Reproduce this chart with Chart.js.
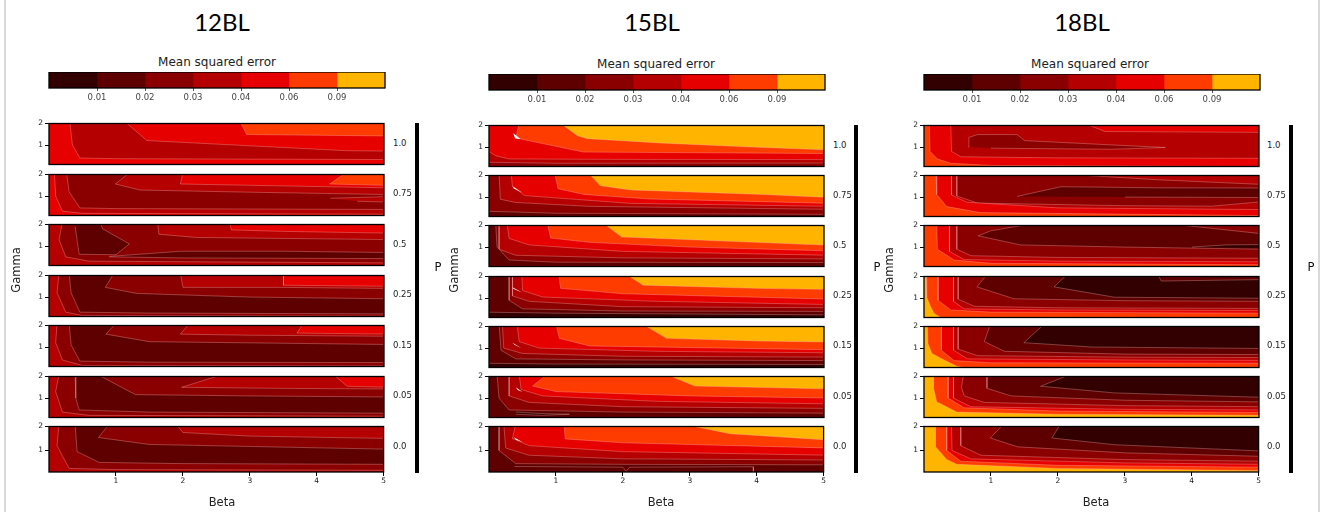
<!DOCTYPE html>
<html>
<head>
<meta charset="utf-8">
<script src="https://cdn.jsdelivr.net/npm/chart.js@4.4.1/dist/chart.umd.min.js"></script>
<style>
  body { margin: 0; background: #fff; width: 1325px; height: 517px; position: relative; overflow: hidden; }
  canvas { position: absolute; }
  .txt { position: absolute; white-space: nowrap; color: #111; font-family: 'DejaVu Sans', sans-serif; line-height: 1; }
  .blk { position: absolute; }
</style>
</head>
<body>
<script>
// ---- data ----
const panelNames = ['12BL', '15BL', '18BL'];
const pLabels = ['1.0', '0.75', '0.5', '0.25', '0.15', '0.05', '0.0'];
const levelTicks = ['0.01', '0.02', '0.03', '0.04', '0.06', '0.09'];
const colorbarBins = [1, 1, 1, 1, 1, 1, 1];
const betaTicks = [1, 2, 3, 4, 5];
const gammaTicks = [1, 2];

// contour bands per subplot: [level, closing corners, beta/gamma polyline]
// corners: a = top right, b = bottom right, c = bottom left, d = top left
const bands12 = [
  [[4, 'abcd', []],
   [3, 'bcd', [0.3, 2.1, 1.13, 2.1, 1.46, 1.21, 4.44, 0.74, 5.1, 0.72]],
   [4, 'bcd', [0.31, 2.1, 0.35, 1.0, 0.46, 0.4, 1, 0.37, 5.1, 0.33]],
   [5, 'a', [2.85, 2.1, 2.95, 1.49, 5.1, 1.42]]],
  [[2, 'abcd', []],
   [3, 'bcd', [0.26, 2.1, 0.3, 1.2, 0.46, 0.45, 1, 0.42, 5.1, 0.38]],
   [4, 'bcd', [0.08, 2.1, 0.1, 1.0, 0.2, 0.3, 0.5, 0.2, 5.1, 0.16]],
   [3, 'a', [1.21, 2.1, 0.99, 1.56, 1.36, 1.28, 3, 1.18, 5.1, 1.07]],
   [4, 'a', [2.0, 2.1, 1.96, 1.56, 3, 1.5, 5.1, 1.38]],
   [5, 'a', [4.44, 2.1, 4.19, 1.56, 5.1, 1.49]],
   [3, '', [4.2, 0.9, 5.1, 0.98, 5.1, 0.72, 4.6, 0.76]]],
  [[2, 'abcd', []],
   [3, 'bcd', [0.2, 2.1, 0.15, 1.3, 0.25, 0.5, 0.6, 0.3, 5.1, 0.22]],
   [1, '', [0.39, 2.1, 0.76, 2.1, 0.8, 1.8, 1.2, 1.1, 1.0, 0.6, 0.45, 0.62, 0.39, 1.9]],
   [1, '', [0.9, 0.52, 1.96, 0.76, 3.5, 0.76, 5.1, 0.7, 5.1, 0.42, 2, 0.45, 0.9, 0.5]],
   [3, 'a', [1.62, 2.1, 1.64, 1.55, 2.2, 1.4, 5.1, 1.3]],
   [4, 'a', [2.7, 2.1, 2.72, 1.75, 3.5, 1.68, 5.1, 1.6]]],
  [[1, 'abcd', []],
   [2, 'bcd', [0.3, 2.1, 0.33, 1.2, 0.46, 0.3, 1.5, 0.26, 5.1, 0.22]],
   [3, 'bcd', [0.15, 2.1, 0.12, 1.2, 0.25, 0.3, 0.5, 0.15, 5.1, 0.12]],
   [2, 'a', [0.97, 2.1, 0.84, 1.45, 1.31, 1.17, 3, 1.0, 5.1, 0.92]],
   [3, 'a', [1.96, 2.1, 2.0, 1.45, 3.45, 1.45, 5.1, 1.4]],
   [4, 'a', [3.5, 2.1, 3.5, 1.55, 5.1, 1.5]]],
  [[1, 'abcd', []],
   [2, 'bcd', [0.3, 2.1, 0.33, 1.1, 0.46, 0.35, 1.5, 0.3, 5.1, 0.28]],
   [3, 'bcd', [0.12, 2.1, 0.1, 1.2, 0.2, 0.4, 0.5, 0.15, 5.1, 0.13]],
   [2, 'a', [1.0, 2.1, 0.85, 1.6, 1.5, 1.25, 5.1, 1.12]],
   [3, 'a', [2.1, 2.1, 1.96, 1.6, 3, 1.55, 5.1, 1.5]],
   [4, 'a', [3.8, 2.1, 3.7, 1.65, 5.1, 1.6]]],
  [[1, 'abcd', []],
   [2, 'bcd', [0.39, 2.1, 0.4, 1.0, 0.45, 0.45, 1.5, 0.35, 5.1, 0.3]],
   [3, 'bcd', [0.15, 2.1, 0.1, 1.3, 0.2, 0.35, 0.6, 0.2, 5.1, 0.16]],
   [2, 'a', [0.72, 2.1, 1.29, 1.16, 3, 1.1, 5.1, 1.05]],
   [3, 'a', [2.6, 2.1, 1.98, 1.5, 3.5, 1.45, 5.1, 1.42]],
   [4, 'a', [4.24, 2.1, 4.45, 1.55, 5.1, 1.5]]],
  [[1, 'abcd', []],
   [2, 'bcd', [0.39, 2.1, 0.42, 0.95, 0.75, 0.5, 2, 0.45, 5.1, 0.42]],
   [3, 'bcd', [0.15, 2.1, 0.12, 1.2, 0.3, 0.25, 1, 0.2, 5.1, 0.17]],
   [2, 'a', [0.9, 2.1, 0.74, 1.54, 1.5, 1.25, 5.1, 1.05]],
   [3, 'a', [1.9, 2.1, 2.0, 1.75, 3, 1.6, 5.1, 1.5]]]
];

const bands15 = [
  [[4, 'abcd', []],
   [3, 'bc', [-0.1, 1.0, 0.1, 0.6, 0.3, 0.45, 2, 0.43, 5.1, 0.42]],
   [2, 'bc', [-0.1, 0.3, 1, 0.25, 5.1, 0.26]],
   [5, 'a', [0.45, 2.1, 0.4, 1.42, 1.41, 0.77, 5.1, 0.7]],
   [6, 'a', [1.07, 2.1, 1.32, 1.53, 1.47, 1.39, 2.61, 1.18, 4.1, 0.98, 5.1, 0.87]],
   [7, '', [0.36, 1.65, 0.39, 1.4, 0.47, 1.37]]],
  [[2, 'abcd', []],
   [3, 'a', [0.15, 2.1, 0.17, 0.9, 0.4, 0.75, 1.5, 0.57, 5.1, 0.43]],
   [4, 'a', [0.33, 2.1, 0.35, 1.5, 0.53, 1.07, 2.1, 0.71, 5.1, 0.57]],
   [5, 'a', [0.98, 2.1, 1.03, 1.39, 1.42, 1.12, 2.4, 0.91, 5.1, 0.71]],
   [6, 'a', [1.49, 2.1, 1.66, 1.53, 2.11, 1.33, 4.1, 1.12, 5.1, 0.98]],
   [1, 'bc', [-0.1, 0.35, 1, 0.25, 5.1, 0.2]],
   [7, '', [0.35, 1.5, 0.37, 1.4, 0.5, 1.2]]],
  [[2, 'abcd', []],
   [3, 'a', [0.15, 2.1, 0.15, 0.9, 0.4, 0.62, 2, 0.5, 5.1, 0.45]],
   [4, 'a', [0.27, 2.1, 0.3, 1.4, 0.6, 1.1, 2, 0.8, 5.1, 0.62]],
   [5, 'a', [0.87, 2.1, 0.92, 1.42, 1.5, 1.22, 3, 1.0, 5.1, 0.82]],
   [6, 'a', [1.71, 2.1, 1.98, 1.47, 3.5, 1.28, 5.1, 1.08]],
   [1, 'bcd', [0.1, 2.1, 0.12, 1.0, 0.3, 0.4, 1, 0.3, 5.1, 0.28]]],
  [[2, 'abcd', []],
   [3, 'a', [0.35, 2.1, 0.35, 1.1, 0.6, 0.85, 2, 0.6, 5.1, 0.55]],
   [4, 'a', [0.49, 2.1, 0.5, 1.35, 0.8, 1.05, 2.5, 0.85, 5.1, 0.7]],
   [5, 'a', [1.04, 2.1, 1.07, 1.45, 2, 1.2, 5.1, 0.95]],
   [6, 'a', [2.05, 2.1, 2.3, 1.6, 4, 1.45, 5.1, 1.4]],
   [1, 'bcd', [0.3, 2.1, 0.3, 0.9, 0.5, 0.5, 2, 0.4, 5.1, 0.38]],
   [0, 'bc', [-0.1, 0.35, 1, 0.3, 5.1, 0.22]],
   [7, '', [0.35, 1.5, 0.37, 1.42, 0.5, 1.25]]],
  [[2, 'abcd', []],
   [3, 'a', [0.2, 2.1, 0.22, 1.0, 0.5, 0.75, 2, 0.62, 5.1, 0.58]],
   [4, 'a', [0.42, 2.1, 0.45, 1.3, 0.75, 1.0, 2.5, 0.85, 5.1, 0.78]],
   [5, 'a', [1.0, 2.1, 1.05, 1.45, 1.5, 1.1, 5.1, 0.92]],
   [6, 'a', [2.3, 2.1, 2.65, 1.45, 4, 1.33, 5.1, 1.28]],
   [1, 'bcd', [0.15, 2.1, 0.18, 0.9, 0.4, 0.5, 2, 0.45, 5.1, 0.42]],
   [0, 'bc', [-0.1, 0.3, 1, 0.26, 5.1, 0.24]],
   [7, '', [0.35, 1.25, 0.38, 1.15, 0.48, 1.0]]],
  [[2, 'abcd', []],
   [3, 'a', [0.3, 2.1, 0.3, 1.1, 0.6, 0.8, 2, 0.6, 5.1, 0.52]],
   [4, 'a', [0.45, 2.1, 0.48, 1.4, 0.8, 1.1, 2.5, 0.85, 5.1, 0.73]],
   [5, 'a', [0.87, 2.1, 0.65, 1.56, 1.0, 1.3, 3, 1.1, 5.1, 1.0]],
   [6, 'a', [2.65, 2.1, 3.07, 1.56, 5.1, 1.42]],
   [1, 'bcd', [0.12, 2.1, 0.15, 1.0, 0.3, 0.45, 2, 0.35, 5.1, 0.3]],
   [0, '', [0.4, 0.35, 0.8, 0.28, 1.2, 0.25, 0.8, 0.2, 0.4, 0.25]],
   [7, '', [0.4, 1.5, 0.43, 1.38, 0.5, 1.28]]],
  [[2, 'abcd', []],
   [3, 'a', [0.22, 2.1, 0.25, 1.1, 0.6, 0.8, 2, 0.65, 5.1, 0.6]],
   [4, 'a', [0.4, 2.1, 0.35, 1.5, 0.6, 1.2, 2, 0.95, 5.1, 0.8]],
   [5, 'a', [1.12, 2.1, 1.14, 1.48, 2, 1.32, 5.1, 1.1]],
   [6, 'a', [2.9, 2.1, 3.6, 1.7, 5.1, 1.43]],
   [1, 'bcd', [0.15, 2.1, 0.15, 1.0, 0.4, 0.45, 2, 0.42, 5.1, 0.4]],
   [1, '', [0.38, 0.33, 2, 0.3, 2.05, 0.12, 2.1, 0.3, 3.95, 0.32, 3.95, 0, 0.38, 0]],
   [7, '', [0.37, 1.55, 0.4, 1.45, 0.5, 1.35]]]
];

const bands18 = [
  [[4, 'abcd', []],
   [3, 'a', [0.4, 2.1, 0.41, 0.8, 0.55, 0.55, 2, 0.5, 5.1, 0.48]],
   [4, 'a', [2.4, 2.1, 2.7, 1.72, 5.1, 1.68]],
   [2, '', [0.66, 1.0, 0.67, 1.45, 0.8, 1.58, 1.39, 1.58, 1.5, 1.3, 2.8, 1.1, 3.6, 0.98, 2.8, 0.9, 1.0, 0.95]],
   [5, 'bcd', [0.08, 2.1, 0.09, 0.8, 0.2, 0.45, 0.4, 0.25, 1, 0.15, 5.1, 0.1]]],
  [[2, 'abcd', []],
   [3, 'a', [1.9, 2.1, 3.5, 1.8, 5.1, 1.58]],
   [1, '', [1.39, 1.03, 2.04, 1.48, 3.5, 1.43, 5.1, 1.42, 5.1, 0.98, 3, 1.0]],
   [3, 'bcd', [0.49, 2.1, 0.49, 1.05, 0.8, 0.72, 3, 0.6, 4.3, 0.58, 5.1, 0.8]],
   [4, 'bcd', [0.41, 2.1, 0.41, 1.1, 0.64, 0.76, 2, 0.5, 5.1, 0.42]],
   [5, 'bcd', [0.18, 2.1, 0.19, 1.12, 0.34, 0.56, 0.84, 0.28, 5.1, 0.14]]],
  [[2, 'abcd', []],
   [1, 'a', [1.64, 2.1, 0.99, 1.75, 0.81, 1.52, 1.44, 1.1, 3, 1.0, 5.1, 0.9]],
   [2, 'a', [3.6, 2.1, 5.1, 1.6]],
   [0, '', [4.0, 1.0, 4.5, 1.1, 5.1, 1.12, 5.1, 0.95]],
   [3, 'bcd', [0.49, 2.1, 0.49, 0.9, 0.7, 0.6, 2, 0.52, 5.1, 0.48]],
   [4, 'bcd', [0.38, 2.1, 0.38, 0.8, 0.6, 0.42, 2, 0.35, 5.1, 0.32]],
   [5, 'bcd', [0.19, 2.1, 0.2, 0.9, 0.45, 0.4, 1, 0.25, 5.1, 0.18]]],
  [[2, 'abcd', []],
   [1, 'a', [0.94, 2.1, 0.79, 1.52, 1.34, 0.97, 3, 0.88, 5.1, 0.85]],
   [0, 'a', [2.14, 2.1, 1.94, 1.52, 2.84, 1.04, 5.1, 0.99]],
   [1, 'a', [3.49, 2.1, 3.54, 1.79, 5.1, 1.86]],
   [3, 'bcd', [0.51, 2.1, 0.51, 0.95, 0.75, 0.62, 2, 0.55, 5.1, 0.52]],
   [4, 'bcd', [0.44, 2.1, 0.44, 0.85, 0.6, 0.5, 2, 0.45, 5.1, 0.42]],
   [5, 'bcd', [0.21, 2.1, 0.21, 0.9, 0.4, 0.45, 1, 0.35, 5.1, 0.3]],
   [6, 'bcd', [0.03, 2.1, 0.04, 1.05, 0.1, 0.6, 0.15, 0.3, 0.25, 0.1, 0.3, -0.1]]],
  [[1, 'abcd', []],
   [0, 'a', [1.79, 2.1, 1.49, 1.25, 2.5, 1.05, 5.1, 0.98]],
   [2, 'bcd', [0.99, 2.1, 0.9, 1.3, 1.2, 0.85, 3, 0.72, 5.1, 0.7]],
   [3, 'bcd', [0.51, 2.1, 0.51, 0.95, 0.8, 0.65, 3, 0.58, 5.1, 0.56]],
   [4, 'bcd', [0.44, 2.1, 0.44, 0.9, 0.65, 0.5, 3, 0.45, 5.1, 0.43]],
   [5, 'bcd', [0.26, 2.1, 0.26, 0.9, 0.45, 0.42, 1, 0.32, 5.1, 0.3]],
   [6, 'bcd', [0.05, 2.1, 0.06, 1.2, 0.12, 0.75, 0.3, 0.45, 0.5, 0.15, 1, -0.1]]],
  [[1, 'abcd', []],
   [0, 'a', [2.19, 2.1, 1.74, 1.55, 2.84, 1.24, 5.1, 1.03]],
   [2, 'bcd', [0.94, 2.1, 0.94, 1.45, 1.3, 1.1, 3, 0.9, 5.1, 0.82]],
   [3, 'bcd', [0.59, 2.1, 0.56, 1.5, 0.6, 1.1, 0.9, 0.8, 3, 0.65, 5.1, 0.6]],
   [4, 'bcd', [0.44, 2.1, 0.44, 1.0, 0.7, 0.6, 3, 0.48, 5.1, 0.45]],
   [5, 'bcd', [0.36, 2.1, 0.36, 1.0, 0.6, 0.55, 2, 0.4, 5.1, 0.33]],
   [6, 'bcd', [0.14, 2.1, 0.14, 1.5, 0.19, 0.83, 0.49, 0.35, 2, 0.25, 5.1, 0.2]]],
  [[1, 'abcd', []],
   [0, 'a', [2.04, 2.1, 1.91, 1.52, 2.84, 1.24, 5.1, 0.97]],
   [2, 'bcd', [1.19, 2.1, 0.99, 1.52, 1.4, 1.15, 3, 0.9, 5.1, 0.75]],
   [3, 'bcd', [0.55, 2.1, 0.55, 1.2, 0.85, 0.8, 3, 0.62, 5.1, 0.55]],
   [4, 'bcd', [0.41, 2.1, 0.42, 1.0, 0.7, 0.65, 3, 0.48, 5.1, 0.42]],
   [5, 'bcd', [0.34, 2.1, 0.34, 1.0, 0.55, 0.55, 2, 0.38, 5.1, 0.3]],
   [6, 'bcd', [0.17, 2.1, 0.17, 1.17, 0.34, 0.62, 0.49, 0.42, 2, 0.25, 5.1, 0.16]]]
];

// ---- styling / layout ----
const levelColors = ['#330000', '#5e0000', '#8a0000', '#b40000', '#e60000', '#ff3c00', '#ffb400', '#ffffff'];
const corner = { a: [5.1, 2.1], b: [5.1, 0], c: [-0.1, 0], d: [-0.1, 2.1] };
const PLOT_W = 335, PLOT_H = 46, CB_W = 336, CB_H = 16;
const panelGeo = [
  { x: 49, cbY: 72, top: 123, pitch: 50.5, barX: 415, labX: 393, pX: 438, gX: 17, titleX: 222, mseX: 217, betaX: 222 },
  { x: 489, cbY: 74, top: 125, pitch: 50.2, barX: 854, labX: 833, pX: 877, gX: 455, titleX: 652, mseX: 656, betaX: 661 },
  { x: 924, cbY: 74, top: 125, pitch: 50.2, barX: 1289, labX: 1267, pX: 1311, gX: 890, titleX: 1082, mseX: 1090, betaX: 1096 }
];
const tickFont = { family: "'DejaVu Sans', sans-serif", size: 7.5 };

// draws the black box round every plot area
Chart.register({
  id: 'frame',
  afterDatasetsDraw(chart) {
    const a = chart.chartArea;
    const ctx = chart.ctx;
    ctx.save();
    ctx.strokeStyle = '#000';
    ctx.lineWidth = 1.3;
    ctx.strokeRect(a.left, a.top, a.right - a.left, a.bottom - a.top);
    ctx.restore();
  }
});

function addText(txt, x, y, css, rot, left) {
  const d = document.createElement('div');
  d.className = 'txt';
  d.textContent = txt;
  d.style.left = x + 'px';
  d.style.top = y + 'px';
  d.style.transform = (left ? 'translate(0,-50%)' : 'translate(-50%,-50%)') + (rot ? ' rotate(' + rot + 'deg)' : '');
  d.style.cssText += css;
  document.body.appendChild(d);
}

function addBlock(x, y, w, h, color) {
  const d = document.createElement('div');
  d.className = 'blk';
  d.style.cssText = `left:${x}px;top:${y}px;width:${w}px;height:${h}px;background:${color}`;
  document.body.appendChild(d);
}

function newCanvas(x, y, w, h) {
  const c = document.createElement('canvas');
  c.width = w; c.height = h;
  c.style.left = x + 'px'; c.style.top = y + 'px';
  c.style.width = w + 'px'; c.style.height = h + 'px';
  document.body.appendChild(c);
  return c;
}

function bandPoints(band) {
  const flat = band[2];
  const pts = [];
  for (let i = 0; i < flat.length; i += 2) pts.push({ x: flat[i], y: flat[i + 1] });
  for (const k of band[1]) pts.push({ x: corner[k][0], y: corner[k][1] });
  return pts;
}

function makeSubplot(x, y, bands, last) {
  const padL = 20, padT = 6, padR = 3, padB = last ? 0 : 2;
  const axisH = last ? 22 : 0;
  const w = PLOT_W + padL + padR;
  const h = PLOT_H + padT + padB + axisH;
  const canvas = newCanvas(x - padL, y - padT, w, h);

  const datasets = bands.map((b, i) => ({
    data: bandPoints(b),
    fill: 'shape',
    backgroundColor: levelColors[b[0]],
    borderColor: 'rgba(255,185,185,0.42)',
    borderWidth: (i === 0 || b[0] === 7) ? 0 : 0.8,
    pointRadius: 0,
    tension: 0,
    order: bands.length - i
  }));

  new Chart(canvas, {
    type: 'line',
    data: { datasets },
    options: {
      responsive: false,
      animation: false,
      events: [],
      layout: { padding: { left: 0, top: padT, right: padR, bottom: padB } },
      plugins: { legend: { display: false }, tooltip: { enabled: false } },
      scales: {
        x: {
          type: 'linear', min: 0, max: 5, display: last,
          afterFit: s => { s.height = axisH; },
          afterBuildTicks: s => { s.ticks = betaTicks.map(v => ({ value: v })); },
          ticks: { font: tickFont, color: '#222', padding: 1, autoSkip: false, maxRotation: 0 },
          grid: { drawOnChartArea: false, tickLength: 4, color: '#000' },
          border: { display: false }
        },
        y: {
          type: 'linear', min: 0.1, max: 2,
          afterFit: s => { s.width = padL; },
          afterBuildTicks: s => { s.ticks = gammaTicks.map(v => ({ value: v })); },
          ticks: { font: tickFont, color: '#222', padding: 2, autoSkip: false },
          grid: { drawOnChartArea: false, tickLength: 4, color: '#000' },
          border: { display: false }
        }
      }
    }
  });
}

function makeColorbar(x, y) {
  const pad = 10;
  const canvas = newCanvas(x - pad, y, CB_W + 2 * pad, CB_H + 18);
  new Chart(canvas, {
    type: 'bar',
    data: {
      labels: [''],
      datasets: colorbarBins.map((v, i) => ({
        data: [v],
        backgroundColor: levelColors[i],
        borderWidth: 0,
        barPercentage: 1,
        categoryPercentage: 1
      }))
    },
    options: {
      indexAxis: 'y',
      responsive: false,
      animation: false,
      events: [],
      layout: { padding: { left: pad, right: pad, top: 0, bottom: 0 } },
      plugins: { legend: { display: false }, tooltip: { enabled: false } },
      scales: {
        x: {
          stacked: true, min: 0, max: colorbarBins.length,
          afterFit: s => { s.height = 18; },
          afterBuildTicks: s => { s.ticks = levelTicks.map((t, i) => ({ value: i + 1 })); },
          ticks: {
            font: { family: "'DejaVu Sans', sans-serif", size: 8.5 }, color: '#444', padding: 2,
            autoSkip: false, maxRotation: 0,
            callback: (v, i) => levelTicks[i]
          },
          grid: { drawOnChartArea: false, tickLength: 3, color: '#555' },
          border: { display: false }
        },
        y: { stacked: true, display: false }
      }
    }
  });
}

// light frame of the whole figure
addBlock(4, 0, 2, 512, '#d9d9d9');
addBlock(1318, 0, 2, 512, '#d9d9d9');

[bands12, bands15, bands18].forEach((panel, k) => {
  const g = panelGeo[k];
  addText(panelNames[k], g.titleX, 22, "font-family:Lato,'Open Sans',sans-serif;font-size:24px;color:#000;");
  addText('Mean squared error', g.mseX, g.cbY - 10, 'font-size:12px;color:#222;');
  makeColorbar(g.x, g.cbY);

  panel.forEach((bands, i) => {
    const top = g.top + i * g.pitch;
    makeSubplot(g.x, top, bands, i === panel.length - 1);
    addText(pLabels[i], g.labX, top + 19.5, 'font-size:8.5px;color:#222;', 0, true);
  });

  const bottom = g.top + 6 * g.pitch + PLOT_H;
  addBlock(g.barX, g.top, 4, bottom - g.top + 1, '#000');
  addText('P', g.pX, 268, 'font-size:11.5px;color:#111;');
  addText('Gamma', g.gX, 270, 'font-size:11.5px;color:#222;', -90);
  addText('Beta', g.betaX, 503, 'font-size:11.5px;color:#222;');
});
</script>
</body>
</html>
